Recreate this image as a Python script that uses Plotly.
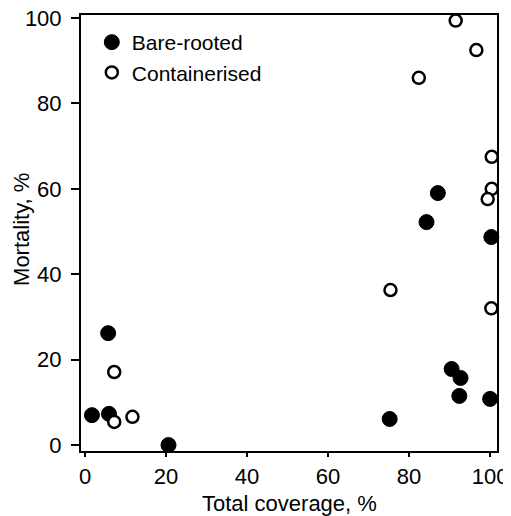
import plotly.graph_objects as go

bare_x = [1.7, 5.7, 5.9, 20.6, 75.2, 84.3, 87.1, 100.3, 90.5, 92.7, 92.4, 100.0]
bare_y = [7.0, 26.2, 7.3, 0.0, 6.1, 52.2, 59.0, 48.7, 17.8, 15.7, 11.5, 10.8]

cont_x = [7.2, 7.2, 11.7, 75.4, 100.3, 82.4, 91.5, 96.6, 100.4, 100.4, 99.4]
cont_y = [17.1, 5.4, 6.6, 36.3, 32.0, 86.0, 99.4, 92.5, 67.5, 60.0, 57.6]

x_ticks = [0, 20, 40, 60, 80, 100]
y_ticks = [0, 20, 40, 60, 80, 100]

x_title = "Total coverage, %"
y_title = "Mortality, %"

fig = go.Figure()
fig.add_trace(go.Scatter(
    x=bare_x, y=bare_y, mode="markers", name="Bare-rooted",
    marker=dict(size=15, color="black", line=dict(color="black", width=1)),
    cliponaxis=False,
))
fig.add_trace(go.Scatter(
    x=cont_x, y=cont_y, mode="markers", name="Containerised",
    marker=dict(size=12, color="white", line=dict(color="black", width=2.5)),
    cliponaxis=False,
))

font = dict(family="Liberation Sans, Arial, sans-serif", size=22, color="black")
legend_font = dict(family="Liberation Sans, Arial, sans-serif", size=21, color="black")

fig.update_layout(
    width=511, height=516,
    margin=dict(l=73, r=22, t=7, b=73),
    paper_bgcolor="white", plot_bgcolor="white",
    font=font,
    showlegend=True,
    legend=dict(x=0.026, y=0.984, xanchor="left", yanchor="top",
                bgcolor="rgba(0,0,0,0)", font=legend_font, itemwidth=30),
    xaxis=dict(
        range=[-1.0, 101.7], tickvals=x_ticks, ticks="outside", ticklen=4,
        tickwidth=1.5, tickcolor="black", showgrid=False, zeroline=False,
        showline=True, linecolor="black", linewidth=2, mirror=True,
        tickfont=font, automargin=False, ticklabelstandoff=1,
        ticklabeloverflow="allow",
    ),
    yaxis=dict(
        range=[-1.4, 100.7], tickvals=y_ticks, ticks="outside", ticklen=8,
        tickwidth=1.5, tickcolor="black", showgrid=False, zeroline=False,
        showline=True, linecolor="black", linewidth=2, mirror=True,
        tickfont=font, automargin=False, ticklabelstandoff=5,
        ticklabeloverflow="allow",
    ),
    annotations=[
        dict(text=x_title, xref="paper", yref="paper", x=0.502, y=0,
             xanchor="center", yanchor="middle", yshift=-52, showarrow=False,
             font=font),
        dict(text=y_title, xref="paper", yref="paper", x=0, y=0.507,
             xanchor="center", yanchor="middle", xshift=-59, textangle=-90,
             showarrow=False, font=font),
    ],
)

fig.write_html("out.html")
